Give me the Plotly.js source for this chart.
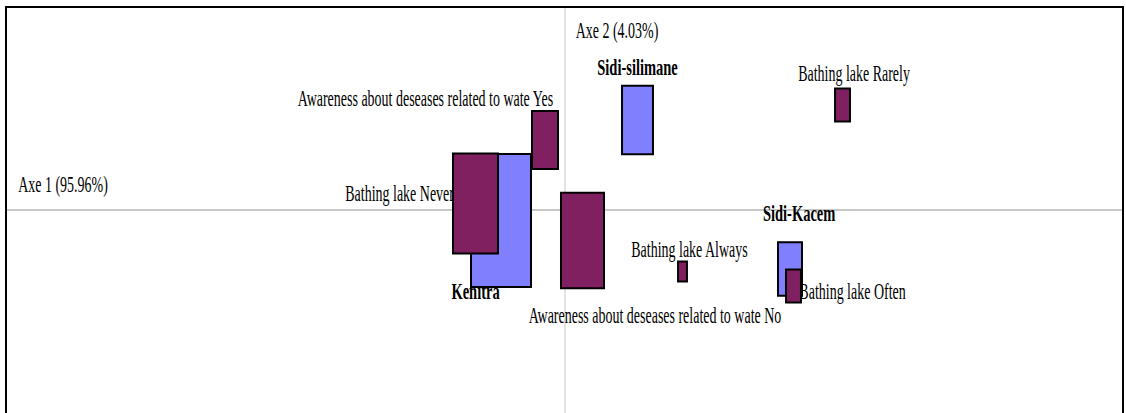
<!DOCTYPE html>
<html><head><meta charset="utf-8">
<script src="https://cdn.plot.ly/plotly-3.0.1.min.js"></script>
<style>
html,body{margin:0;padding:0;background:#fff}
#chart{width:1126px;height:413px}
/* the reference uses a tall, horizontally condensed serif face */
#chart .textpoint text, #chart .annotation-text{transform-box:fill-box;transform-origin:50% 50%}
#chart .trace-regular .textpoint text, #chart .annotation-text{transform:scaleX(0.583)}
#chart .trace-bold .textpoint text{transform:scaleX(0.604)}
</style>
</head><body><div id="chart"></div>
<script>
// ---- data (correspondence analysis coordinates and masses) ----
const rowLabels = ['Kenitra', 'Sidi-silimane', 'Sidi-Kacem'];
const rowAxis1 = [-0.256, 0.290, 0.900];
const rowAxis2 = [-0.0105, 0.090, -0.059];
const rowMass = [0.500, 0.133, 0.080];

const colLabels = ['Bathing lake Never', 'Awareness about deseases related to wate Yes',
  'Awareness about deseases related to wate No', 'Bathing lake Always',
  'Bathing lake Often', 'Bathing lake Rarely'];
const colAxis1 = [-0.358, -0.080, 0.070, 0.470, 0.914, 1.110];
const colAxis2 = [0.0065, 0.070, -0.0305, -0.0615, -0.076, 0.105];
const colMass = [0.281, 0.094, 0.257, 0.011, 0.031, 0.031];

const axisTitles = ['Axe 1 (95.96%)', 'Axe 2 (4.03%)'];

// ---- layout / style ----
const W = 1126, H = 413;
const M = {l: 6, r: 3, t: 7, b: 0};
const xRange = [-2.236, 2.232];
const yRange = [-0.203, 0.203];
const pxX = (W - M.l - M.r) / (xRange[1] - xRange[0]);
const pxY = (H - M.t - M.b) / (yRange[1] - yRange[0]);
const BOX_K = 84.85;      // px width per sqrt(mass)
const BOX_ASPECT = 2.22;  // height / width
const FONT = '"Liberation Serif", "Times New Roman", serif';
const FSIZE = 24;
const BLUE = '#8080ff', PLUM = '#802060';

// label centre offsets from point, px (right, down)
const rowLabelOffset = [[-25.5, 72.5], [0, -51], [9, -54]];
const colLabelOffset = [[-76, -8.5], [-119.5, -39.5], [72.5, 76.5], [7, -20], [59, 7], [11.5, -29.5]];

function boxes(xs, ys, ms, color) {
  return xs.map((x, i) => {
    const wpx = BOX_K * Math.sqrt(ms[i]);
    const hw = wpx / 2 / pxX, hh = wpx * BOX_ASPECT / 2 / pxY;
    return {type: 'rect', xref: 'x', yref: 'y', layer: 'above',
      x0: x - hw, x1: x + hw, y0: ys[i] - hh, y1: ys[i] + hh,
      fillcolor: color, line: {color: '#000', width: 2}};
  });
}
function labelTrace(xs, ys, labels, offs, bold) {
  return {type: 'scatter', mode: 'text', hoverinfo: 'skip', showlegend: false,
    x: xs.map((x, i) => x + offs[i][0] / pxX),
    y: ys.map((y, i) => y - offs[i][1] / pxY),
    text: labels, textposition: 'middle center',
    textfont: {family: FONT, size: FSIZE, color: '#000', weight: bold ? 'bold' : 'normal'}};
}

const shapes = [
  {type: 'line', xref: 'x', yref: 'paper', x0: 0, x1: 0, y0: 0, y1: 1, layer: 'below', line: {color: '#c8c8c8', width: 1}},
  {type: 'line', xref: 'paper', yref: 'y', x0: 0, x1: 1, y0: 0, y1: 0, layer: 'below', line: {color: '#909090', width: 1}},
  ...boxes(rowAxis1, rowAxis2, rowMass, BLUE),
  ...boxes(colAxis1, colAxis2, colMass, PLUM),
  {type: 'path', xref: 'paper', yref: 'paper', path: 'M0,0 L0,1 L1,1 L1,0', layer: 'above', line: {color: '#000', width: 2}}
];

const axisStyle = {showgrid: false, zeroline: false, showticklabels: false, ticks: '', showline: false, fixedrange: true};

const layout = {
  width: W, height: H, margin: M, paper_bgcolor: '#fff', plot_bgcolor: '#fff', showlegend: false,
  xaxis: Object.assign({range: xRange}, axisStyle),
  yaxis: Object.assign({range: yRange}, axisStyle),
  shapes: shapes,
  annotations: [
    {text: axisTitles[0], xref: 'paper', yref: 'y', x: 0, y: 0, xanchor: 'center', yanchor: 'middle',
      xshift: 56.5, yshift: 26.5, showarrow: false, font: {family: FONT, size: FSIZE, color: '#000'}},
    {text: axisTitles[1], xref: 'x', yref: 'paper', x: 0, y: 1, xanchor: 'center', yanchor: 'middle',
      xshift: 52, yshift: -23, showarrow: false, font: {family: FONT, size: FSIZE, color: '#000'}}
  ]
};

const traces = [
  labelTrace(rowAxis1, rowAxis2, rowLabels, rowLabelOffset, true),
  labelTrace(colAxis1, colAxis2, colLabels, colLabelOffset, false)
];

Plotly.newPlot('chart', traces, layout, {displayModeBar: false, staticPlot: true}).then(gd => {
  const groups = gd.querySelectorAll('.scatterlayer .trace');
  if (groups[0]) groups[0].classList.add('trace-bold');
  if (groups[1]) groups[1].classList.add('trace-regular');
});
</script></body></html>
